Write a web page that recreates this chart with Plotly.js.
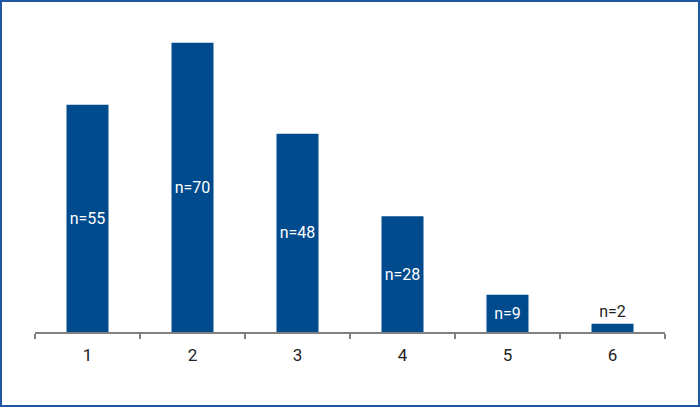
<!DOCTYPE html>
<html><head><meta charset="utf-8">
<script src="https://cdn.plot.ly/plotly-3.0.1.min.js"></script>
<style>
html,body{margin:0;padding:0;background:#fff;}
#wrap{position:relative;width:700px;height:407px;}
#frame{position:absolute;left:0;top:0;width:700px;height:407px;box-sizing:border-box;border:2px solid #1f58a0;pointer-events:none;}
</style></head>
<body>
<div id="wrap"><div id="chart" style="width:700px;height:407px;"></div><div id="frame"></div></div>
<script>
const categories = ['1','2','3','4','5','6'];
const values = [55, 70, 48, 28, 9, 2];
const labels = ['n=55','n=70','n=48','n=28','n=9','n=2'];

Plotly.newPlot('chart', [{
  type: 'bar',
  x: categories,
  y: values,
  text: labels,
  textposition: 'auto',
  insidetextanchor: 'middle',
  textangle: 0,
  insidetextfont: {color: '#ffffff', size: 16, family: 'Roboto, sans-serif'},
  outsidetextfont: {color: '#222222', size: 16, family: 'Roboto, sans-serif'},
  marker: {color: '#004b8d'},
  hoverinfo: 'none',
  cliponaxis: false
}], {
  width: 700, height: 407,
  margin: {l: 35, r: 35, t: 20, b: 75},
  paper_bgcolor: '#ffffff', plot_bgcolor: '#ffffff',
  bargap: 0.6,
  showlegend: false,
  font: {family: 'Roboto, sans-serif', size: 16, color: '#222'},
  xaxis: {
    type: 'category',
    showline: true, linecolor: '#808080', linewidth: 1.5,
    ticks: 'outside', tickson: 'boundaries', ticklen: 5, tickcolor: '#808080', tickwidth: 1.5,
    ticklabelstandoff: 7,
    tickfont: {size: 17, color: '#222', family: 'Roboto, sans-serif'},
    showgrid: false, zeroline: false
  },
  yaxis: {
    range: [0, 75.5], visible: false, showgrid: false, zeroline: false
  }
}, {displayModeBar: false, staticPlot: true});
</script>
</body></html>
